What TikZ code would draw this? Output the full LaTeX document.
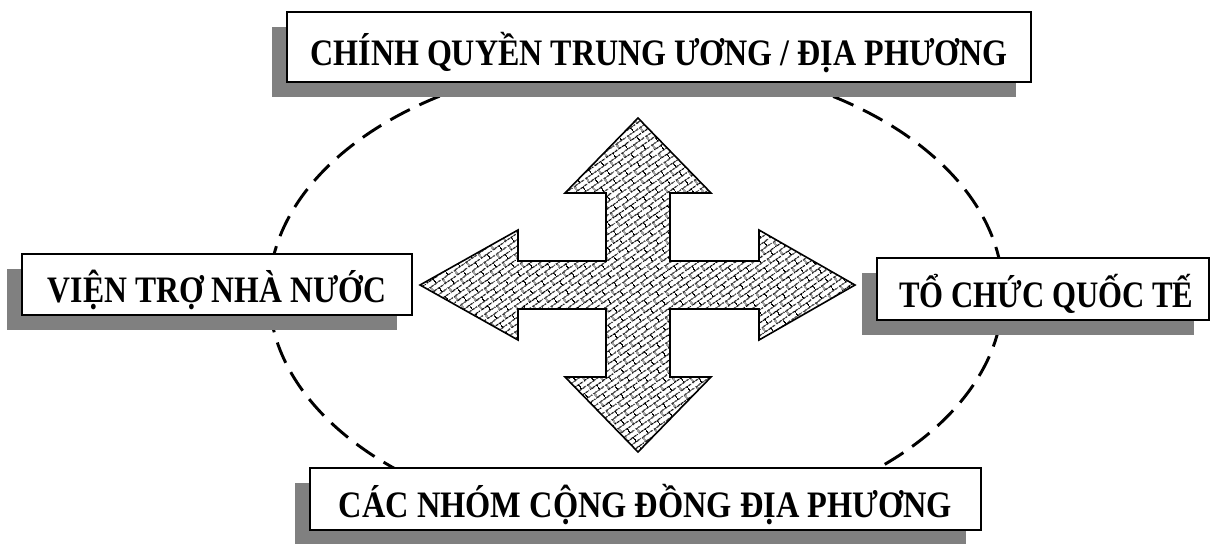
\documentclass[tikz,border=0pt]{standalone}
\usepackage{fontspec}
\setmainfont{Liberation Serif}
\usepackage{graphicx}
\usetikzlibrary{shadows,patterns.meta}
\definecolor{shadowgray}{HTML}{808080}

\pgfdeclarepattern{
  name=diagbricks,
  type=uncolored,
  bottom left={\pgfpoint{0pt}{0pt}},
  top right={\pgfpoint{11pt}{8pt}},
  tile size={\pgfpoint{11pt}{8pt}},
  tile transformation={\pgftransformrotate{35}},
  code={
    \pgfsetlinewidth{0.8pt}
    \pgfpathmoveto{\pgfpoint{0pt}{1pt}}\pgfpathlineto{\pgfpoint{11pt}{1pt}}
    \pgfpathmoveto{\pgfpoint{0pt}{5pt}}\pgfpathlineto{\pgfpoint{11pt}{5pt}}
    \pgfpathmoveto{\pgfpoint{1pt}{1pt}}\pgfpathlineto{\pgfpoint{1pt}{5pt}}
    \pgfpathmoveto{\pgfpoint{6.5pt}{5pt}}\pgfpathlineto{\pgfpoint{6.5pt}{8pt}}
    \pgfpathmoveto{\pgfpoint{6.5pt}{0pt}}\pgfpathlineto{\pgfpoint{6.5pt}{1pt}}
    \pgfusepath{stroke}
  }
}

\tikzset{
  lbl/.style={draw=black, line width=1.5pt, fill=white, inner sep=0pt,
    text height=27.5pt, text depth=0pt,
    font=\fontsize{28}{32}\selectfont\bfseries,
    drop shadow={shadow xshift=-11.25pt, shadow yshift=-11.25pt, fill=shadowgray, opacity=1, draw=none}},
  ell/.style={draw=black, line width=2.2pt, dash pattern=on 16.5pt off 8pt},
  crossarrow/.style={draw=black, line width=1.2pt, line join=miter,
    preaction={fill=white}, pattern=diagbricks, pattern color=black},
}

\begin{document}
\begin{tikzpicture}[x=0.75pt,y=-0.75pt]
\useasboundingbox (0,0) rectangle (1212,543);

% dashed ellipse
\draw[ell] (636,293) ellipse [x radius=367, y radius=233];

% four-way arrow
\draw[crossarrow] (606,261) -- (606,193) -- (565,193) -- (638,118) -- (711,193)
  -- (670,193) -- (670,261) -- (759,261) -- (759,230) -- (855,285) -- (759,340)
  -- (759,309) -- (670,309) -- (670,377) -- (711,377) -- (638,452) -- (565,377)
  -- (606,377) -- (606,309) -- (518,309) -- (518,340) -- (420,285) -- (518,230)
  -- (518,261) -- cycle;

% boxes
\node[lbl, minimum width=558pt, minimum height=52.5pt] (top) at (659,47)
  {\resizebox{522.75pt}{\height}{CHÍNH QUYỀN TRUNG ƯƠNG / ĐỊA PHƯƠNG}};
\node[lbl, minimum width=292.5pt, minimum height=45.75pt] (left) at (217,284.5)
  {\resizebox{253.5pt}{\height}{VIỆN TRỢ NHÀ NƯỚC}};
\node[lbl, minimum width=249pt, minimum height=46.5pt] (right) at (1043,289)
  {\hspace*{5pt}\resizebox{220.5pt}{\height}{TỔ CHỨC QUỐC TẾ}};
\node[lbl, minimum width=503.25pt, minimum height=46.5pt] (bottom) at (645.5,499)
  {\resizebox{459.75pt}{\height}{CÁC NHÓM CỘNG ĐỒNG ĐỊA PHƯƠNG}};
\end{tikzpicture}
\end{document}
